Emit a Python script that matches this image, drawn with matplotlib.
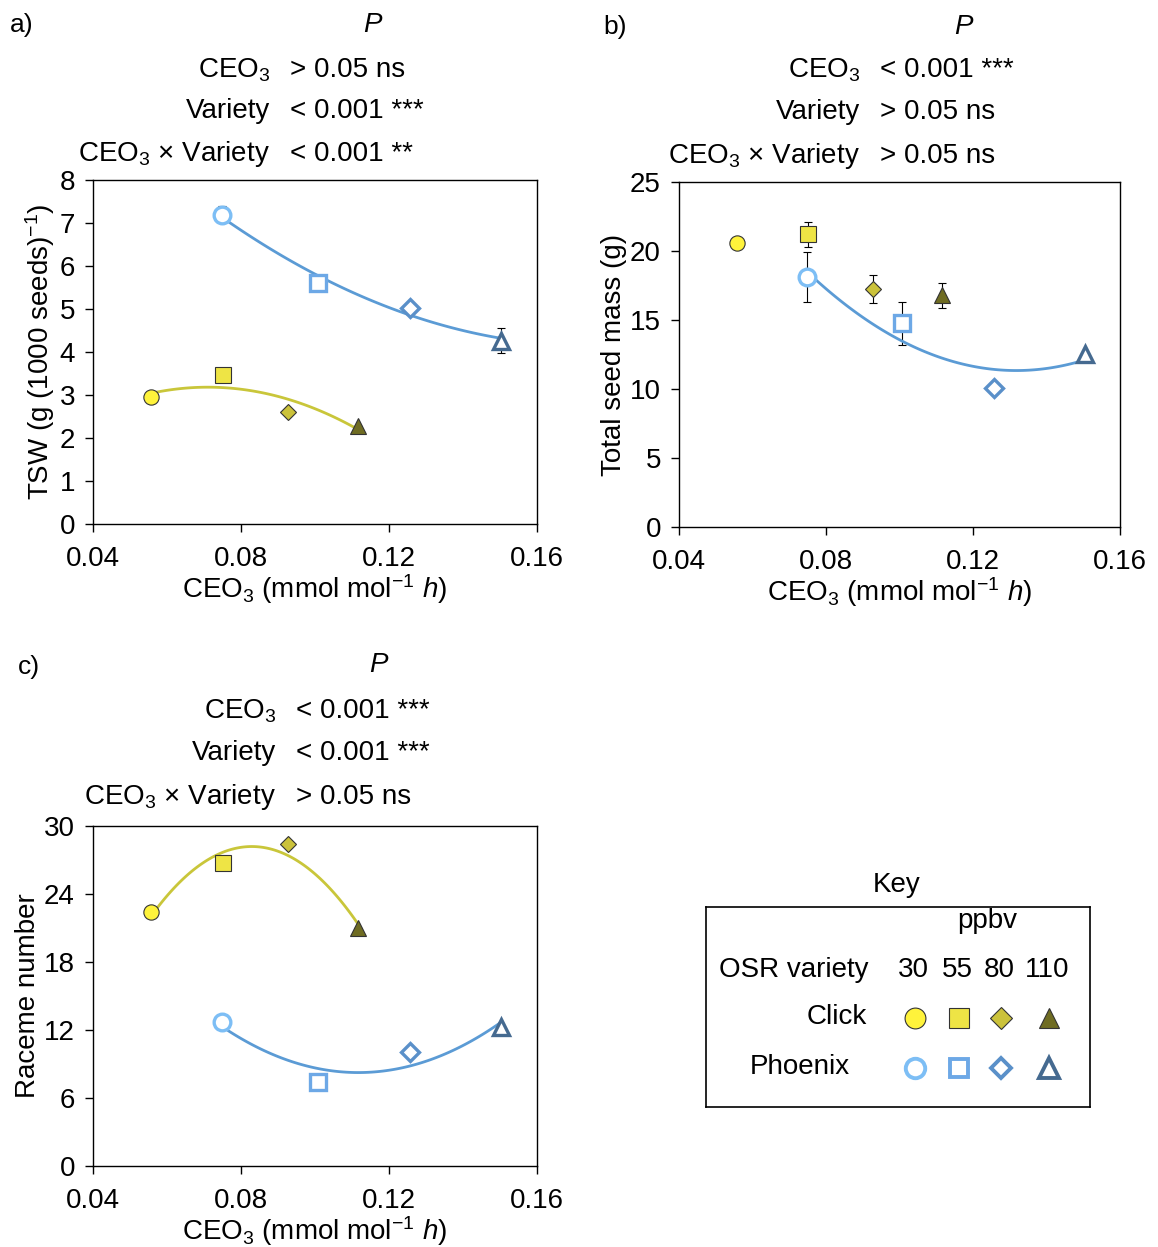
import numpy as np
import matplotlib
matplotlib.use("Agg")
import matplotlib.pyplot as plt

plt.rcParams['font.family'] = ['Liberation Sans', 'DejaVu Sans']
plt.rcParams['mathtext.fontset'] = 'custom'
plt.rcParams['mathtext.rm'] = 'Liberation Sans'
plt.rcParams['mathtext.it'] = 'Liberation Sans:italic'
plt.rcParams['font.size'] = 20

W, H = 1158, 1247
FS = 20

# ppbv levels and CEO3 exposure per variety
ppbv = ["30", "55", "80", "110"]
click_ceo3 = [0.0558, 0.0752, 0.0927, 0.1117]
phoenix_ceo3 = [0.0748, 0.1008, 0.1256, 0.1504]

# a) TSW
click_tsw = [2.95, 3.47, 2.60, 2.29]
click_tsw_err = [0, 0, 0, 0]
phoenix_tsw = [7.19, 5.61, 5.03, 4.26]
phoenix_tsw_err = [0.2, 0, 0, 0.29]

# b) total seed mass
click_mass = [20.6, 21.2, 17.25, 16.8]
click_mass_err = [0, 0.9, 1.0, 0.9]
phoenix_mass = [18.1, 14.75, 10.1, 12.55]
phoenix_mass_err = [1.8, 1.55, 0, 0]

# c) raceme number
click_rac = [22.4, 26.7, 28.4, 21.0]
phoenix_rac = [12.7, 7.4, 10.05, 12.3]

click_col = ['#FFF33B', '#EEE445', '#CBC23A', '#6F6C22']
phoenix_col = ['#7DBEF5', '#6DA8E6', '#5A90C9', '#456A90']
markers = ['o', 's', 'D', '^']
click_ms = [11, 11, 8, 11]
phoenix_ms = [12, 12, 9, 12]
key_ms = [15, 14, 11, 15]
click_fit_col = '#C9C63A'
phoenix_fit_col = '#5B9BD5'


def px(x, y):
    return x / W, 1 - y / H


def rect(l, t, r, b):
    return [l / W, 1 - b / H, (r - l) / W, (b - t) / H]


def draw_points(ax, xs, ys, err, cols, filled):
    ax.errorbar(xs, ys, yerr=err, fmt='none', ecolor='black',
                elinewidth=0.8, capsize=3, capthick=0.8, zorder=2)
    for i, (x, y) in enumerate(zip(xs, ys)):
        if filled:
            ax.plot(x, y, marker=markers[i], ms=click_ms[i], mfc=cols[i],
                    mec='#333333', mew=0.8, ls='none', zorder=4)
        else:
            ax.plot(x, y, marker=markers[i], ms=phoenix_ms[i], mfc='white',
                    mec=cols[i], mew=2.4, ls='none', zorder=4)


def draw_fit(ax, xs, ys, col):
    coef = np.polyfit(xs, ys, 2)
    xx = np.linspace(min(xs), max(xs), 100)
    ax.plot(xx, np.polyval(coef, xx), color=col, lw=2, zorder=3)


def style(ax, ymax, ystep, ylabel):
    ax.set_xlim(0.04, 0.16)
    ax.set_ylim(0, ymax)
    ax.set_xticks([0.04, 0.08, 0.12, 0.16])
    ax.set_xticklabels(['0.04', '0.08', '0.12', '0.16'])
    ax.set_yticks(np.arange(0, ymax + 0.1, ystep))
    ax.tick_params(direction='out', length=6, width=1, labelsize=FS)
    ax.tick_params(axis='x', pad=10)
    ax.tick_params(axis='y', pad=7)
    for s in ax.spines.values():
        s.set_linewidth(1)
    ax.set_xlabel(r'CEO$_3$ (mmol mol$^{-1}$ $h$)', fontsize=FS, labelpad=0)
    ax.set_ylabel(ylabel, fontsize=FS, labelpad=2)


def stats(tag, tagpos, ppos, xr, ys, labels, values):
    fig.text(*px(*tagpos), tag, fontsize=FS - 1, ha='left', va='center')
    fig.text(*px(*ppos), 'P', fontsize=FS, style='italic', ha='center', va='center')
    for y, lab, val in zip(ys, labels, values):
        fig.text(*px(xr, y), lab, fontsize=FS, ha='right', va='center')
        fig.text(*px(xr + 20, y), val, fontsize=FS, ha='left', va='center')


fig = plt.figure(figsize=(W / 100, H / 100), dpi=100)

labels3 = [r'CEO$_3$', 'Variety', r'CEO$_3$ $\times$ Variety']

# panel a
ax1 = fig.add_axes(rect(93, 180, 537, 524))
draw_fit(ax1, click_ceo3, click_tsw, click_fit_col)
draw_fit(ax1, phoenix_ceo3, phoenix_tsw, phoenix_fit_col)
draw_points(ax1, click_ceo3, click_tsw, click_tsw_err, click_col, True)
draw_points(ax1, phoenix_ceo3, phoenix_tsw, phoenix_tsw_err, phoenix_col, False)
style(ax1, 8, 1, r'TSW (g (1000 seeds)$^{-1}$)')
stats('a)', (10, 25), (372, 25), 270, [70, 111, 154], labels3,
      ['> 0.05 ns', '< 0.001 ***', '< 0.001 **'])

# panel b
ax2 = fig.add_axes(rect(679, 182, 1120, 527))
draw_fit(ax2, phoenix_ceo3, phoenix_mass, phoenix_fit_col)
draw_points(ax2, click_ceo3, click_mass, click_mass_err, click_col, True)
draw_points(ax2, phoenix_ceo3, phoenix_mass, phoenix_mass_err, phoenix_col, False)
style(ax2, 25, 5, 'Total seed mass (g)')
stats('b)', (603, 27), (963, 27), 860, [70, 112, 156], labels3,
      ['< 0.001 ***', '> 0.05 ns', '> 0.05 ns'])

# panel c
ax3 = fig.add_axes(rect(93, 826, 537, 1166))
draw_fit(ax3, click_ceo3, click_rac, click_fit_col)
draw_fit(ax3, phoenix_ceo3, phoenix_rac, phoenix_fit_col)
draw_points(ax3, click_ceo3, click_rac, [0] * 4, click_col, True)
draw_points(ax3, phoenix_ceo3, phoenix_rac, [0] * 4, phoenix_col, False)
style(ax3, 30, 6, 'Raceme number')
stats('c)', (18, 667), (378, 665), 276, [711, 753, 797], labels3,
      ['< 0.001 ***', '< 0.001 ***', '> 0.05 ns'])

# key
kx = fig.add_axes(rect(706, 907, 1090, 1107))
kx.set_xlim(706, 1090)
kx.set_ylim(1107, 907)
kx.set_xticks([])
kx.set_yticks([])
for s in kx.spines.values():
    s.set_linewidth(1.2)
fig.text(*px(897, 885), 'Key', fontsize=FS, ha='center', va='center')
kx.text(987, 921, 'ppbv', fontsize=FS, ha='center', va='center')
kx.text(719, 970, 'OSR variety', fontsize=FS, ha='left', va='center')
kx.text(867, 1017, 'Click', fontsize=FS, ha='right', va='center')
kx.text(850, 1067, 'Phoenix', fontsize=FS, ha='right', va='center')
key_x = [915, 959, 1001, 1049]
for i, lab in enumerate(ppbv):
    kx.text(key_x[i] - 2, 970, lab, fontsize=FS, ha='center', va='center')
    kx.plot(key_x[i], 1018, marker=markers[i], ms=key_ms[i],
            mfc=click_col[i], mec='#333333', mew=0.8, ls='none')
    kx.plot(key_x[i], 1068, marker=markers[i], ms=key_ms[i] - 1,
            mfc='white', mec=phoenix_col[i], mew=2.8, ls='none')

fig.savefig('out.png', dpi=100)
